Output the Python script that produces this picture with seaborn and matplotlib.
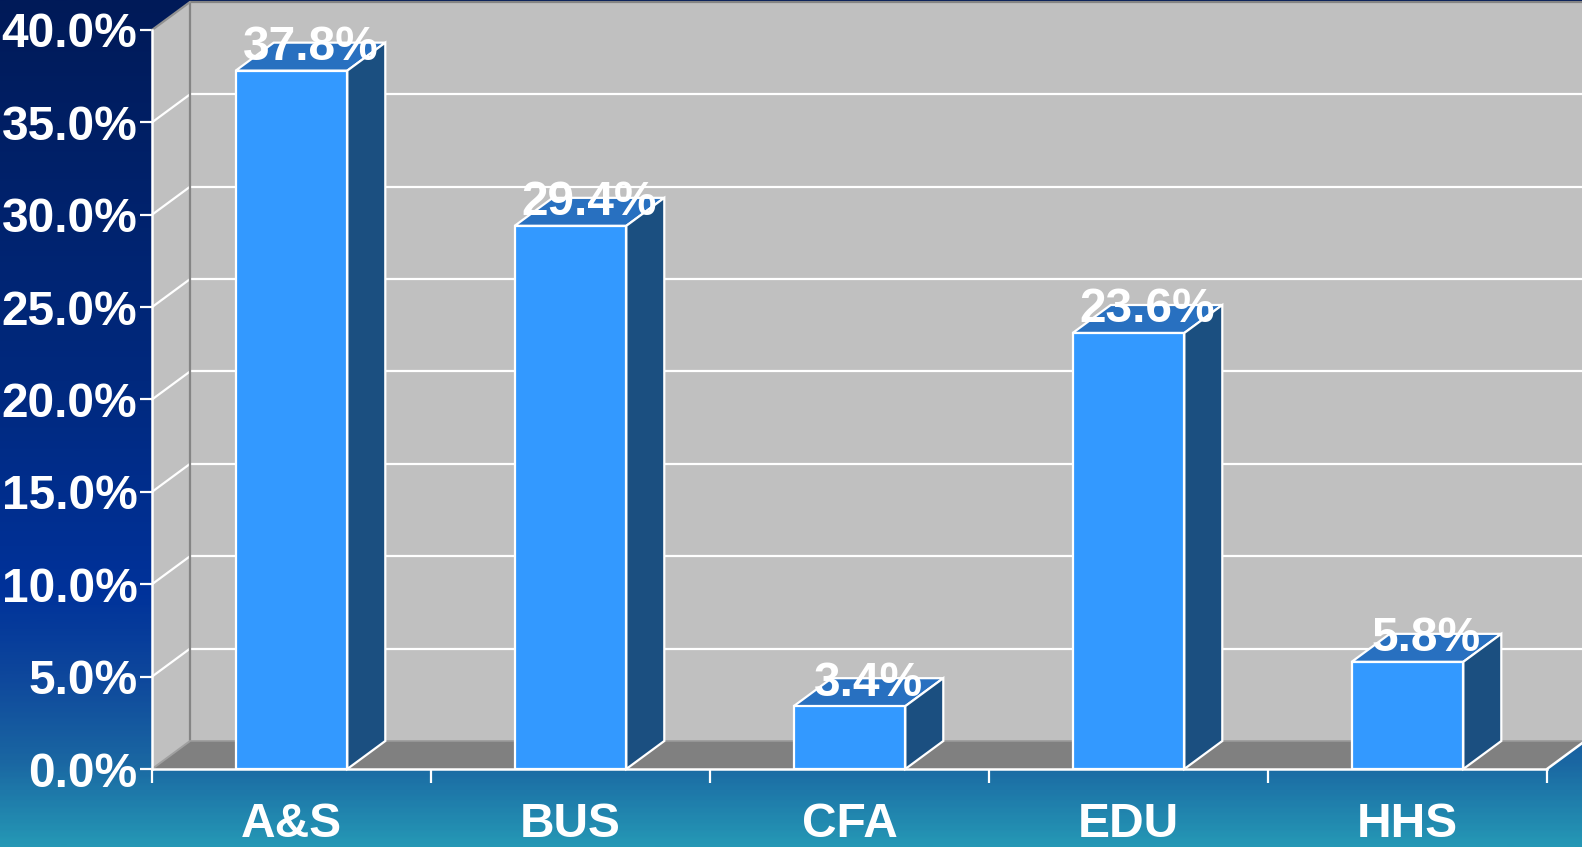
import numpy as np
import matplotlib.pyplot as plt
import seaborn as sns
from matplotlib.patches import Polygon
from matplotlib.colors import LinearSegmentedColormap

# data
colleges = ["A&S", "BUS", "CFA", "EDU", "HHS"]
shares = [37.8, 29.4, 3.4, 23.6, 5.8]
y_ticks = [0, 5, 10, 15, 20, 25, 30, 35, 40]
y_tick_labels = ["0.0%", "5.0%", "10.0%", "15.0%", "20.0%", "25.0%", "30.0%", "35.0%", "40.0%"]

sns.set_theme(style="white")
plt.rcParams['font.family'] = ['Liberation Sans', 'DejaVu Sans']

W, H, DPI = 1582, 847, 100
FS = 34.5
fig = plt.figure(figsize=(W / DPI, H / DPI), dpi=DPI)

# slide background gradient
bg = fig.add_axes([0, 0, 1, 1], zorder=-10)
bg_cmap = LinearSegmentedColormap.from_list("bg", [
    (0.0, "#001a58"), (0.45, "#00297e"), (0.70, "#00329a"),
    (0.80, "#0e479c"), (0.90, "#1a66a2"), (1.0, "#2597b5")])
bg.imshow(np.linspace(0, 1, 400).reshape(-1, 1), aspect="auto", cmap=bg_cmap,
          extent=(0, 1, 0, 1), origin="upper")
bg.axis("off")

left, right, bottom, top = 152, 1547, 78, 817
ax = fig.add_axes([left / W, bottom / H, (right - left) / W, (top - bottom) / H])
ax.patch.set_alpha(0)

# 3d depth offset, pixels -> data units
depth_px = (38, 28)
dx = depth_px[0] / ((right - left) / 5)
dy = depth_px[1] / ((top - bottom) / 40)
x0, x1 = -0.5, 4.5
ymax = 40

kw = dict(clip_on=False)

# front faces of the bars
sns.barplot(x=colleges, y=shares, width=0.4, color="#3399ff", saturation=1,
            edgecolor="white", linewidth=1.6, ax=ax, zorder=5)
bars = list(ax.containers[0])
ax.set_xlim(x0, x1)
ax.set_ylim(0, ymax)

# back wall, side wall, floor
ax.add_patch(Polygon([(x0 + dx, dy), (x1 + dx + 0.1, dy), (x1 + dx + 0.1, ymax + dy), (x0 + dx, ymax + dy)],
                     facecolor="#c0c0c0", edgecolor="none", zorder=0, **kw))
ax.add_patch(Polygon([(x0, 0), (x0, ymax), (x0 + dx, ymax + dy), (x0 + dx, dy)],
                     facecolor="#c0c0c0", edgecolor="none", zorder=0, **kw))
for t in y_ticks[1:-1]:
    ax.plot([x0 + dx, x1 + dx + 0.1], [t + dy, t + dy], color="white", lw=1.6, zorder=1, **kw)
    ax.plot([x0, x0 + dx], [t, t + dy], color="white", lw=1.6, zorder=1, **kw)
ax.plot([x0 + dx, x0 + dx, x1 + dx + 0.1], [dy, ymax + dy, ymax + dy], color="#858585", lw=1.6, zorder=1, **kw)
ax.plot([x0, x0 + dx], [ymax, ymax + dy], color="#909090", lw=1.6, zorder=1, **kw)

ax.add_patch(Polygon([(x0, 0), (x1, 0), (x1 + dx, dy), (x0 + dx, dy)],
                     facecolor="#808080", edgecolor="none", zorder=2, **kw))
ax.plot([x0, x0 + dx], [0, dy], color="#a0a0a0", lw=1.4, zorder=2, **kw)
ax.plot([x0 + dx, x1 + dx + 0.1], [dy, dy], color="#9a9a9a", lw=1.2, zorder=2, **kw)
ax.plot([x1, x1 + dx], [0, dy], color="white", lw=1.8, zorder=2, **kw)

for p, v in zip(bars, shares):
    bx, bw, bh = p.get_x(), p.get_width(), p.get_height()
    top_face = [(bx, bh), (bx + bw, bh), (bx + bw + dx, bh + dy), (bx + dx, bh + dy)]
    side_face = [(bx + bw, 0), (bx + bw, bh), (bx + bw + dx, bh + dy), (bx + bw + dx, dy)]
    ax.add_patch(Polygon(top_face, facecolor="#2870c0", edgecolor="white", lw=1.6, zorder=4, **kw))
    ax.add_patch(Polygon(side_face, facecolor="#1b4f80", edgecolor="white", lw=1.6, zorder=4, **kw))
    ax.annotate(f"{v}%", (bx + bw / 2 + dx / 2, bh + dy), xytext=(0, -12.6), textcoords="offset points",
                ha="center", va="baseline", fontsize=FS, fontweight="bold", color="white", zorder=10)

# axes, ticks
for s in ["top", "right"]:
    ax.spines[s].set_visible(False)
for s in ["left", "bottom"]:
    ax.spines[s].set_color("white")
    ax.spines[s].set_linewidth(1.8)
    ax.spines[s].set_zorder(6)

ax.set_yticks(y_ticks, y_tick_labels, fontsize=FS, fontweight="bold", color="white")
ax.set_xticks(range(len(colleges)), colleges, fontsize=FS, fontweight="bold", color="white")
ax.set_xticks([i - 0.5 for i in range(len(colleges) + 1)], minor=True)
ax.tick_params(axis="y", left=True, length=8.6, width=1.6, color="white", pad=2)
ax.tick_params(axis="x", which="major", bottom=True, length=0, pad=24)
ax.tick_params(axis="x", which="minor", bottom=True, length=10, width=1.6, color="white")
ax.set_xlabel("")
ax.set_ylabel("")
ax.grid(False)

fig.savefig("out.png", dpi=DPI)
